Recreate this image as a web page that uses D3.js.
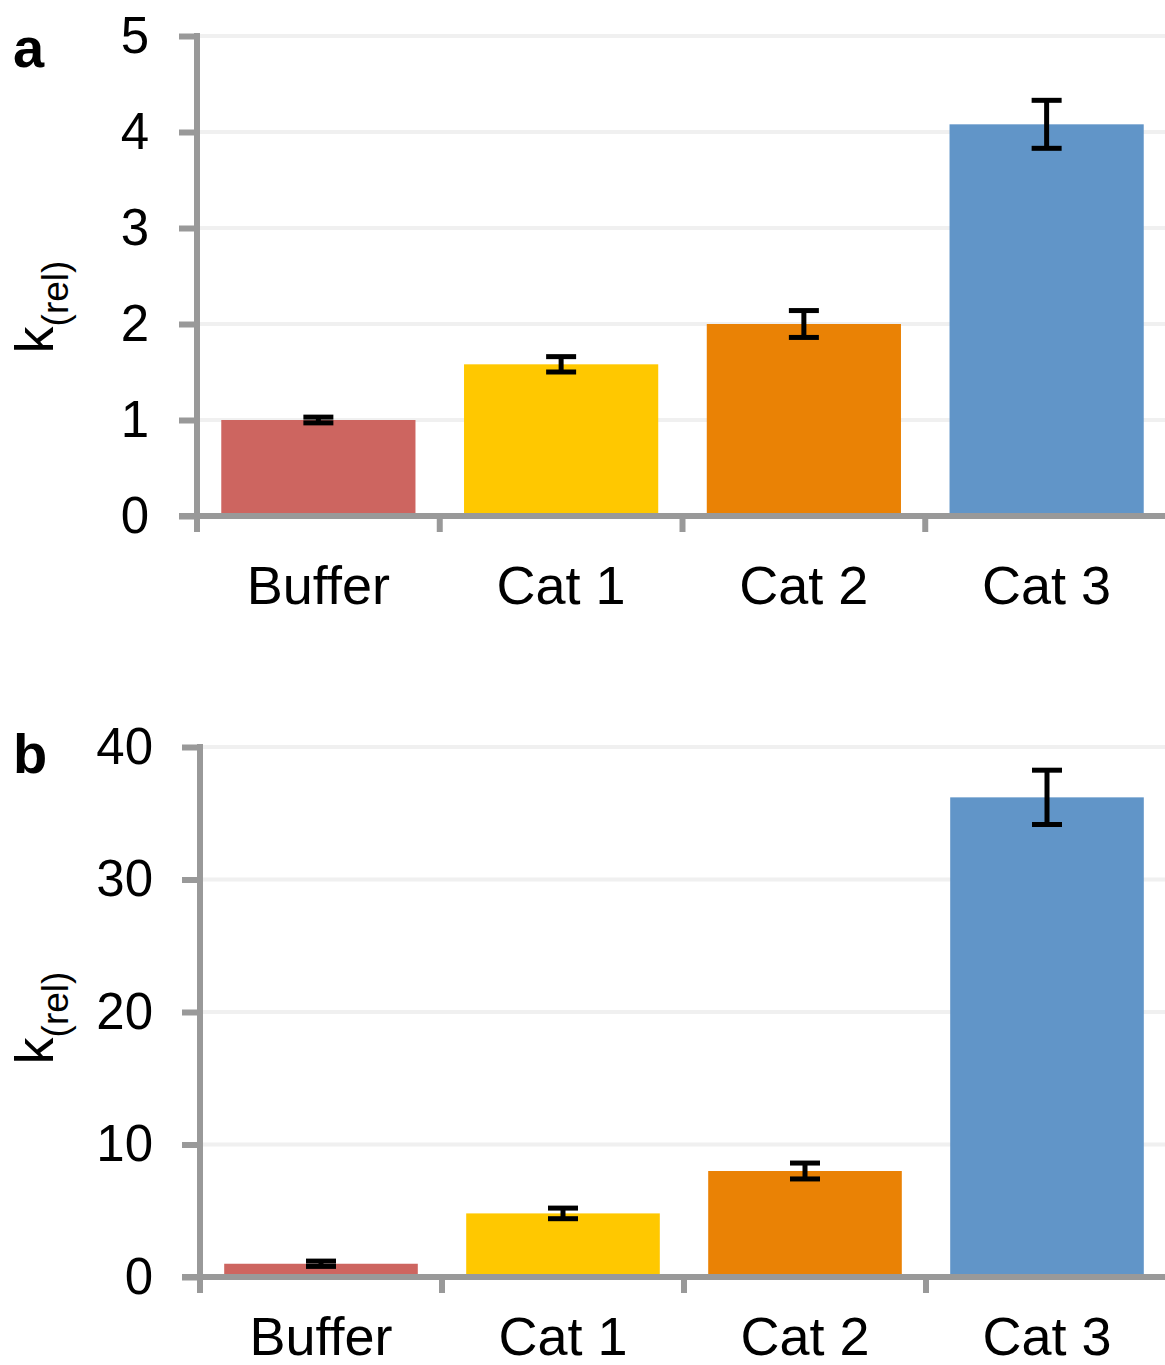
<!DOCTYPE html>
<html>
<head>
<meta charset="utf-8">
<script src="https://cdn.jsdelivr.net/npm/d3@7/dist/d3.min.js"></script>
<style>
  html, body { margin: 0; padding: 0; background: #fff; }
  svg { display: block; }
  text { font-family: "Liberation Sans", Arial, sans-serif; fill: #000; }
</style>
</head>
<body>
<svg id="chart" width="1165" height="1365"></svg>
<script>
// ---- data ----
const categories = ["Buffer", "Cat 1", "Cat 2", "Cat 3"];
const colors = ["#CD6560", "#FFC800", "#EA8205", "#6195C8"];
const valuesA = [1.0, 1.58, 2.0, 4.08];
const errorsA = [0.03, 0.08, 0.14, 0.25];
const ticksA = [0, 1, 2, 3, 4, 5];
const valuesB = [1.0, 4.8, 8.0, 36.2];
const errorsB = [0.2, 0.4, 0.6, 2.05];
const ticksB = [0, 10, 20, 30, 40];

const svg = d3.select("#chart");

function panel(cfg) {
  const g = svg.append("g");
  const x = d3.scaleBand().domain(categories)
    .range([cfg.left, cfg.right]).paddingInner(0.2).paddingOuter(0.1);
  const y = d3.scaleLinear().domain([0, cfg.max]).range([cfg.bottom, cfg.top]);

  // gridlines
  g.append("g").selectAll("line").data(cfg.ticks.filter(t => t > 0)).join("line")
    .attr("x1", cfg.left).attr("x2", 1165)
    .attr("y1", d => y(d)).attr("y2", d => y(d))
    .attr("stroke", "#F0F0F0").attr("stroke-width", 4);

  // bars
  g.append("g").selectAll("rect").data(cfg.values).join("rect")
    .attr("x", (d, i) => x(categories[i]))
    .attr("width", x.bandwidth())
    .attr("y", d => y(d))
    .attr("height", d => y(0) - y(d))
    .attr("fill", (d, i) => colors[i]);

  // error bars
  const eb = g.append("g").attr("stroke", "#000").attr("stroke-width", 5);
  cfg.values.forEach((v, i) => {
    const cx = x(categories[i]) + x.bandwidth() / 2;
    const e = cfg.errors[i];
    eb.append("line").attr("x1", cx).attr("x2", cx).attr("y1", y(v + e)).attr("y2", y(v - e));
    eb.append("line").attr("x1", cx - 15).attr("x2", cx + 15).attr("y1", y(v + e)).attr("y2", y(v + e));
    eb.append("line").attr("x1", cx - 15).attr("x2", cx + 15).attr("y1", y(v - e)).attr("y2", y(v - e));
  });

  // y axis
  const yAxis = d3.axisLeft(y).tickValues(cfg.ticks).tickSize(18).tickPadding(cfg.tickPad).tickFormat(d3.format("d"));
  const ya = g.append("g").attr("transform", `translate(${cfg.left},0)`).call(yAxis);
  ya.select(".domain").remove();
  ya.selectAll(".tick line").attr("stroke", "#999").attr("stroke-width", 6);
  ya.selectAll(".tick text").attr("font-size", 51).attr("font-family", "Liberation Sans, Arial, sans-serif").attr("fill", "#000");
  g.append("line").attr("x1", cfg.left).attr("x2", cfg.left)
    .attr("y1", cfg.top - 3).attr("y2", cfg.bottom + 16)
    .attr("stroke", "#999").attr("stroke-width", 6);

  // x axis
  const xs = d3.scaleLinear().domain([0, categories.length]).range([cfg.left, cfg.right]);
  g.append("line").attr("x1", cfg.left - 18).attr("x2", 1165)
    .attr("y1", cfg.bottom).attr("y2", cfg.bottom)
    .attr("stroke", "#999").attr("stroke-width", 6);
  g.append("g").selectAll("line").data([1, 2, 3]).join("line")
    .attr("x1", d => xs(d)).attr("x2", d => xs(d))
    .attr("y1", cfg.bottom).attr("y2", cfg.bottom + 16)
    .attr("stroke", "#999").attr("stroke-width", 6);
  g.append("g").selectAll("text").data(categories).join("text")
    .attr("x", d => x(d) + x.bandwidth() / 2)
    .attr("y", cfg.labelY)
    .attr("text-anchor", "middle")
    .attr("font-size", 54)
    .text(d => d);

  // y label
  const yl = g.append("text")
    .attr("transform", `translate(${cfg.ylabX},${cfg.ylabY}) rotate(-90)`)
    .attr("text-anchor", "middle")
    .attr("font-size", 54);
  yl.append("tspan").text("k");
  yl.append("tspan").attr("font-size", 37).attr("dy", 15).text("(rel)");

  // panel letter
  g.append("text").attr("x", cfg.letterX).attr("y", cfg.letterY)
    .attr("font-size", 56).attr("font-weight", "bold").text(cfg.letter);
}

panel({ values: valuesA, errors: errorsA, ticks: ticksA, max: 5,
  left: 197, right: 1168, top: 36, bottom: 516, tickPad: 30,
  labelY: 604, ylabX: 53, ylabY: 307, letter: "a", letterX: 13, letterY: 67 });
panel({ values: valuesB, errors: errorsB, ticks: ticksB, max: 40,
  left: 200, right: 1168, top: 747, bottom: 1277, tickPad: 29,
  labelY: 1355, ylabX: 53, ylabY: 1018, letter: "b", letterX: 13, letterY: 773 });
</script>
</body>
</html>
